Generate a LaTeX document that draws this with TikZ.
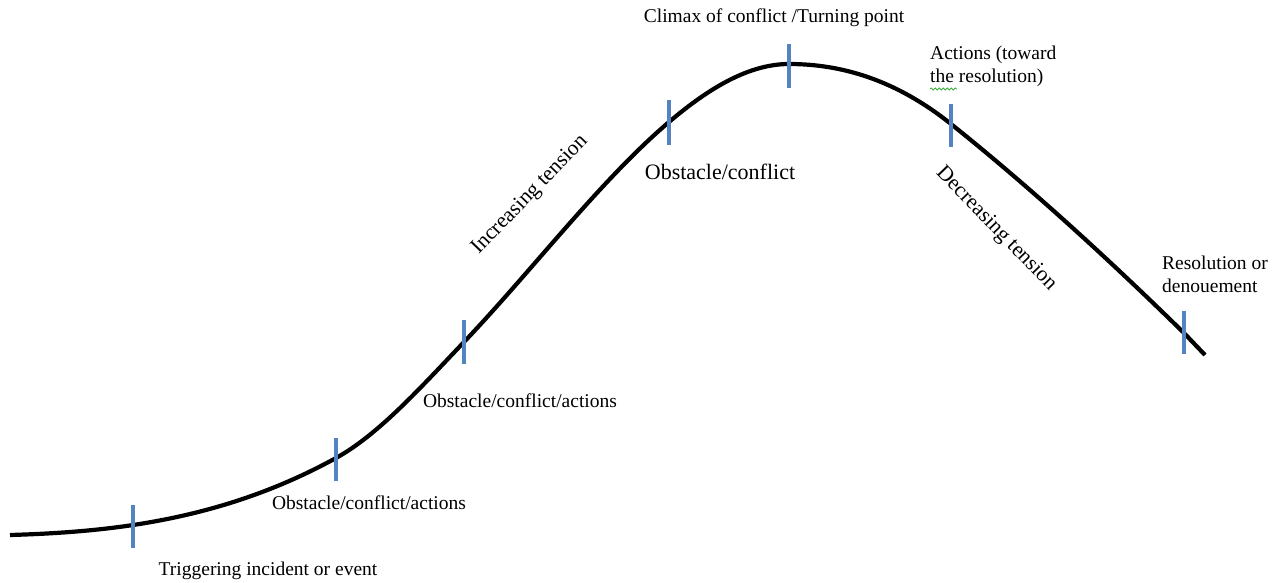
\documentclass[tikz,border=0pt]{standalone}
\usepackage{fontspec}
\setmainfont{Liberation Serif}
\usetikzlibrary{decorations.pathmorphing}
\definecolor{tickblue}{RGB}{84,132,192}
\definecolor{squiggle}{RGB}{60,170,60}
\tikzset{
  curveline/.style={line width=4.2pt, black},
  tickmark/.style={line width=3.6pt, tickblue},
  lbl/.style={inner sep=0pt, font=\fontsize{19.5}{23}\selectfont},
  toplbl/.style={inner sep=0pt, font=\fontsize{19.5}{23}\selectfont},
  biglbl/.style={inner sep=0pt, font=\fontsize{22}{26}\selectfont},
  rotlbl/.style={inner sep=0pt, font=\fontsize{21.5}{26}\selectfont},
}
\begin{document}
\begin{tikzpicture}[x=1pt,y=-1pt]
\useasboundingbox (0,0) rectangle (1277,582);
\draw[curveline] (10,535)
  .. controls (51,533.8) and (92,531.2) .. (133,525)
  .. controls (200.7,514.8) and (268.3,495.2) .. (336,458)
  .. controls (378.7,434.5) and (421.3,386.8) .. (464,342)
  .. controls (532.3,270.2) and (600.7,180.1) .. (669,122)
  .. controls (709,88) and (749,64) .. (789,64)
  .. controls (843,64) and (897,80.8) .. (951,124)
  .. controls (1028.7,186.2) and (1106.3,256.9) .. (1184,333)
  -- (1205,355);
% ticks
\foreach \x/\a/\b in {133/505/548, 336/438/481, 464/320/364, 669/100/145, 789/44/88, 951/104/147, 1184/311/354}
  \draw[tickmark] (\x,\a) -- (\x,\b);
% labels
\node[lbl] (trig) at (268,571) {Triggering incident or event};
\node[lbl] (obs1) at (369,503) {Obstacle/conflict/actions};
\node[lbl] (obs2) at (520,401) {Obstacle/conflict/actions};
\node[rotlbl, rotate=46] (inc) at (530,195) {Increasing tension};
\node[biglbl] (obs3) at (720,172) {Obstacle/conflict};
\node[toplbl] (climax) at (774,18) {Climax of conflict /Turning point};
\node[lbl, align=left, anchor=north west] (act) at (930,46) {Actions (toward\\the resolution)};
\node[rotlbl, rotate=-46] (dec) at (996,229) {Decreasing tension};
\node[lbl, align=left, anchor=north west] (res) at (1162,256) {Resolution or\\denouement};
\draw[squiggle, line width=0.8pt, decorate, decoration={snake, amplitude=1pt, segment length=4pt}] (930,89) -- (957,89);
\end{tikzpicture}
\end{document}
